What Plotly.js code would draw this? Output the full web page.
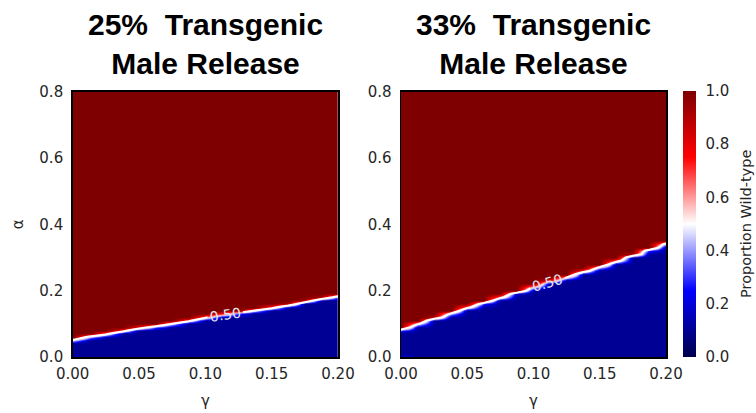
<!DOCTYPE html>
<html>
<head>
<meta charset="utf-8">
<script src="https://cdn.plot.ly/plotly-3.0.1.min.js"></script>
<style>
  html, body { margin: 0; padding: 0; background: #fff; }
  #chart { width: 756px; height: 413px; }
</style>
</head>
<body>
<div id="chart"></div>
<script>
// Release rate γ at which the 50% wild-type boundary is sampled
const gamma = [0, 0.0125, 0.025, 0.0375, 0.05, 0.0625, 0.075, 0.0875, 0.1,
               0.1125, 0.125, 0.1375, 0.15, 0.1625, 0.175, 0.1875, 0.2];

// α at which the population flips to wild-type, for each γ above
const boundary25 = [0.051, 0.062, 0.068, 0.077, 0.086, 0.093, 0.100, 0.108, 0.118,
                    0.126, 0.133, 0.140, 0.147, 0.155, 0.165, 0.175, 0.183];
const boundary33 = [0.083, 0.099, 0.115, 0.131, 0.148, 0.163, 0.178, 0.194, 0.211,
                    0.226, 0.240, 0.256, 0.271, 0.287, 0.305, 0.323, 0.342];

// Proportion wild-type on either side of the boundary
const wildTypeAbove = 1.0;
const wildTypeBelow = 0.1;
const cornerValue25 = 0.16;   // γ = 0, α = 0
const cornerValue33 = 0.24;

// α axis of the simulation grid
const alphaStep = 0.01;
const alphaMax = 0.8;

const panelTitles = ['25%\u00a0 Transgenic<br>Male Release', '33%\u00a0 Transgenic<br>Male Release'];
const xTicks = [0, 0.05, 0.1, 0.15, 0.2];
const yTicks = [0, 0.2, 0.4, 0.6, 0.8];
const cbTicks = [0, 0.2, 0.4, 0.6, 0.8, 1.0];

const alpha = [];
for (let i = 0; Math.round(i * alphaStep * 1000) <= alphaMax * 1000; i++) {
  alpha.push(+(i * alphaStep).toFixed(3));
}

// Fill each γ column: wild-type above the boundary, transgenic below.
// The cell straddling the boundary is weighted so the 0.5 level falls on it.
function buildGrid(boundary, corner) {
  const hi = wildTypeAbove, lo = wildTypeBelow;
  const z = alpha.map(a => boundary.map(b => (a > b ? hi : lo)));
  boundary.forEach((b, j) => {
    const i = Math.floor(b / alphaStep + 1e-9);
    if (i + 1 >= alpha.length) return;
    const f = (b - alpha[i]) / alphaStep;
    const tLo = (0.5 - lo) / (hi - lo);
    if (f >= tLo) {
      z[i][j] = lo;
      z[i + 1][j] = lo + (0.5 - lo) / f;
    } else {
      z[i + 1][j] = hi;
      z[i][j] = (0.5 - hi * f) / (1 - f);
    }
  });
  z[0][0] = corner;
  return z;
}

const z25 = buildGrid(boundary25, cornerValue25);
const z33 = buildGrid(boundary33, cornerValue33);

// matplotlib "seismic" colormap
const seismic = [
  [0.0, 'rgb(0,0,76)'],
  [0.25, 'rgb(0,0,255)'],
  [0.5, 'rgb(255,255,255)'],
  [0.75, 'rgb(255,0,0)'],
  [1.0, 'rgb(127,0,0)']
];

const textColor = '#262626';
const tickFont = { family: 'DejaVu Sans', size: 15, color: textColor };

function heat(z, xa, ya, showScale) {
  return {
    type: 'heatmap', x: gamma, y: alpha, z: z, xaxis: xa, yaxis: ya,
    zmin: 0, zmax: 1, colorscale: seismic, zsmooth: 'best',
    showscale: showScale, hoverinfo: 'skip',
    colorbar: showScale ? {
      x: 683 / 756, xanchor: 'left', xref: 'paper', xpad: 0,
      y: 56 / 413, yanchor: 'bottom', yref: 'paper', ypad: 0,
      len: 265.5 / 413, lenmode: 'fraction', thickness: 13,
      outlinewidth: 0, ticks: 'outside', ticklen: 7, tickcolor: 'rgba(0,0,0,0)',
      tickvals: cbTicks, ticktext: cbTicks.map(v => v.toFixed(1)), tickfont: tickFont
    } : undefined
  };
}

function contour(z, xa, ya) {
  return {
    type: 'contour', x: gamma, y: alpha, z: z, xaxis: xa, yaxis: ya,
    showscale: false, hoverinfo: 'skip',
    contours: { coloring: 'none', start: 0.5, end: 0.5, size: 1,
                showlabels: true, labelformat: '.2f',
                labelfont: { family: 'DejaVu Sans', size: 14, color: '#e4e4ee' } },
    line: { color: 'white', width: 2, smoothing: 0 }
  };
}

const data = [
  heat(z25, 'x', 'y', false), contour(z25, 'x', 'y'),
  heat(z33, 'x2', 'y2', true), contour(z33, 'x2', 'y2')
];

const yDom = [56 / 413, 321.5 / 413];

function xAxis(domain, anchor) {
  return {
    domain: domain, anchor: anchor, range: [0, 0.2], tickvals: xTicks,
    ticktext: xTicks.map(v => v.toFixed(2)), ticks: '', tickfont: tickFont,
    ticklabelstandoff: 2, showline: true, linecolor: '#000', linewidth: 1.5,
    mirror: true, showgrid: false, zeroline: false,
    title: { text: 'γ', font: { family: 'DejaVu Sans', size: 15, color: textColor }, standoff: 14 }
  };
}
function yAxis(anchor, withTitle) {
  return {
    domain: yDom, anchor: anchor, range: [0, 0.8], tickvals: yTicks,
    ticktext: yTicks.map(v => v.toFixed(1)), ticks: '', tickfont: tickFont,
    ticklabelstandoff: 5, showline: true, linecolor: '#000', linewidth: 1.5,
    mirror: true, showgrid: false, zeroline: false,
    title: withTitle ? { text: 'α', font: { family: 'DejaVu Sans', size: 15, color: textColor }, standoff: 12 } : undefined
  };
}

const xDom1 = [72.7 / 756, 338 / 756];
const xDom2 = [401 / 756, 666 / 756];

const annotations = [xDom1, xDom2].map((d, k) => ({
  text: '<b>' + panelTitles[k] + '</b>',
  xref: 'paper', yref: 'paper', x: (d[0] + d[1]) / 2, y: 1 - 44 / 413,
  xanchor: 'center', yanchor: 'middle', showarrow: false,
  font: { family: 'Liberation Sans', size: 30, color: '#000' }
}));
// colour bar label
annotations.push({
  text: 'Proportion Wild-type', textangle: -90,
  xref: 'paper', yref: 'paper', x: 746 / 756, y: (413 - 224) / 413,
  xanchor: 'center', yanchor: 'middle', showarrow: false,
  font: { family: 'DejaVu Sans', size: 14.5, color: textColor }
});

const layout = {
  width: 756, height: 413,
  margin: { l: 0, r: 0, t: 0, b: 0 },
  paper_bgcolor: '#fff', plot_bgcolor: '#fff',
  showlegend: false,
  xaxis: xAxis(xDom1, 'y'), yaxis: yAxis('x', true),
  xaxis2: xAxis(xDom2, 'y2'), yaxis2: yAxis('x2', false),
  annotations: annotations
};

Plotly.newPlot('chart', data, layout, { displayModeBar: false, staticPlot: true });
</script>
</body>
</html>
